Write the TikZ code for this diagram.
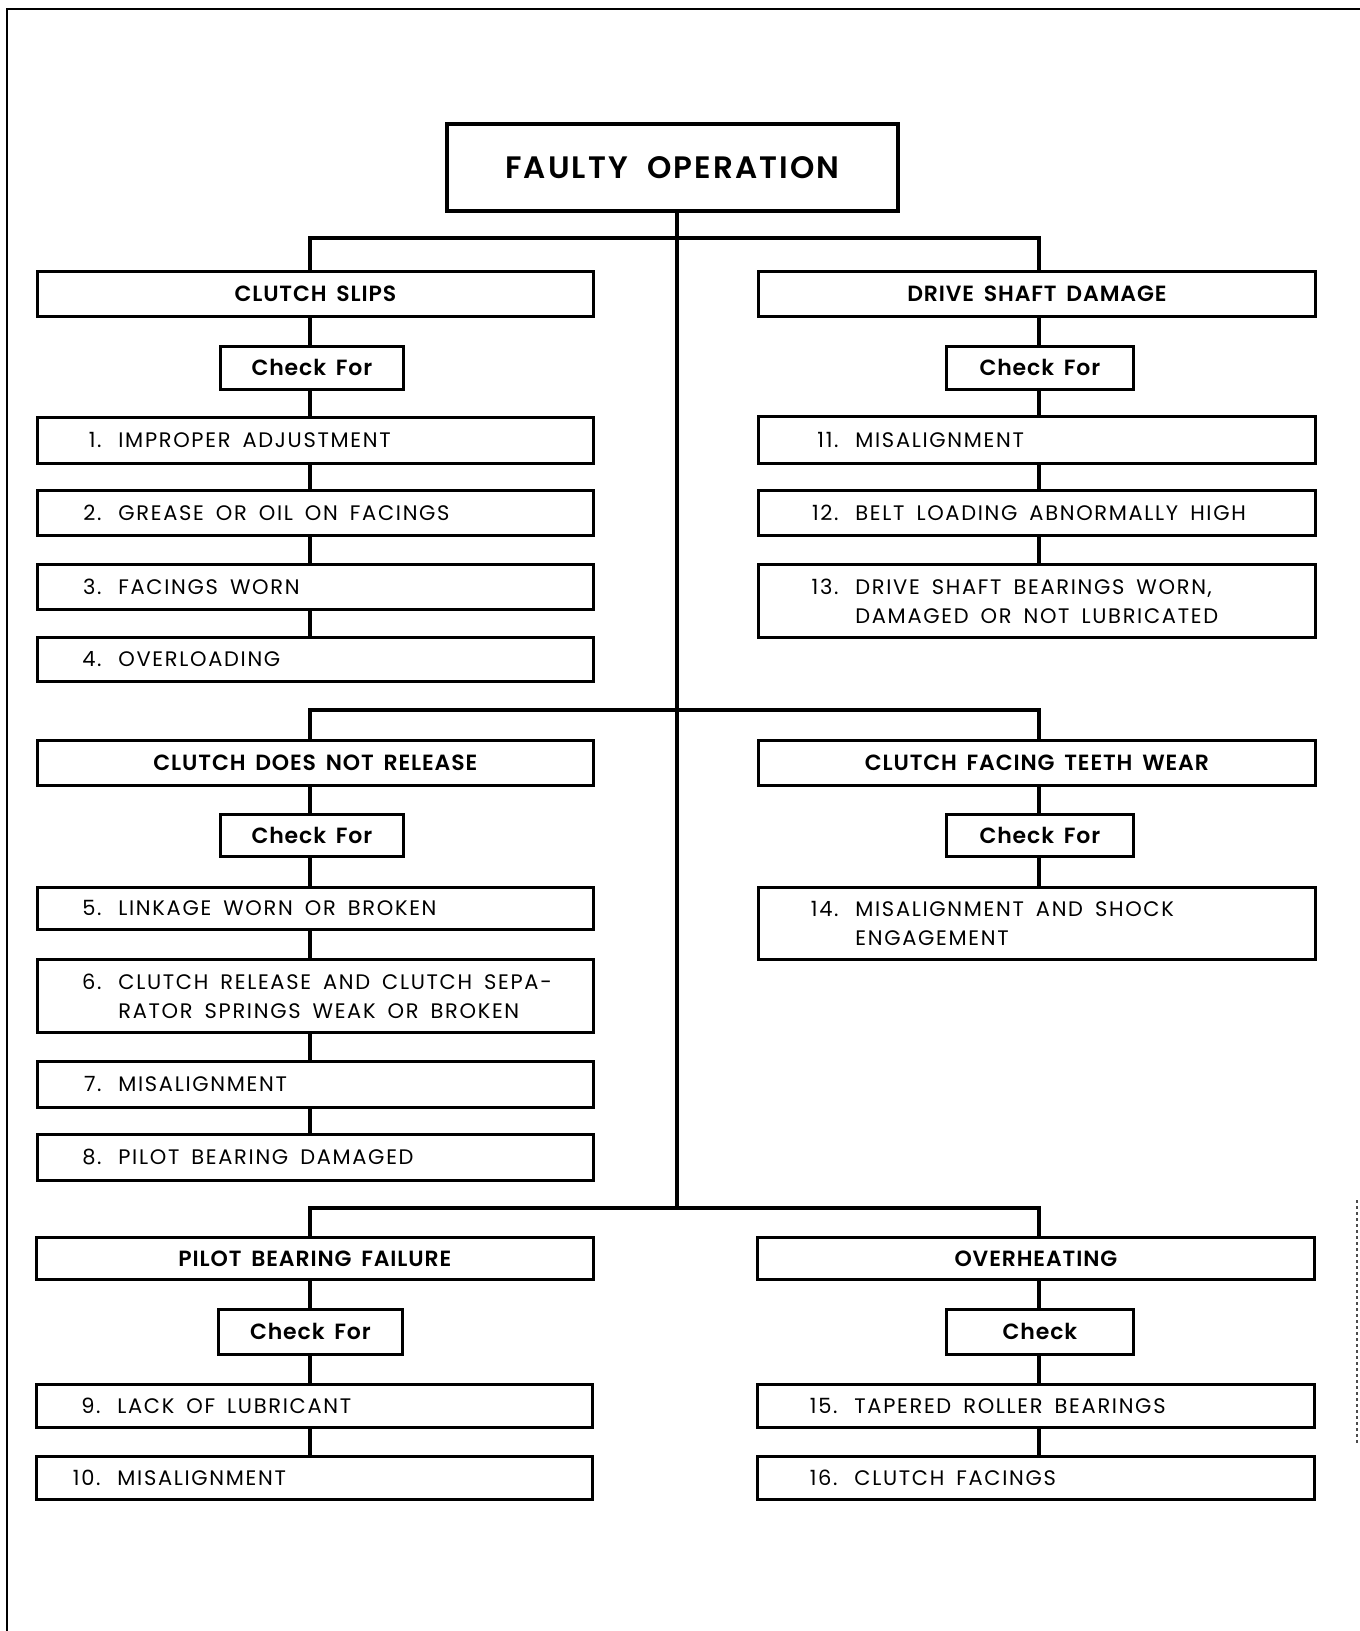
\documentclass[tikz,border=0pt]{standalone}
\usepackage{fontspec}
\setmainfont{Poppins}[BoldFont={Poppins SemiBold}]
\newfontfamily\itemfont[LetterSpace=8]{Poppins}
\newfontfamily\headfont[LetterSpace=4,WordSpace=1.6,BoldFont={Poppins SemiBold}]{Poppins}
\newfontfamily\topfont[LetterSpace=7,WordSpace=2,BoldFont={Poppins SemiBold}]{Poppins}
\newcommand\itm[3]{\spaceskip=12pt plus 2pt minus 1pt\relax\hspace*{#1pt}\llap{#2\hspace{0.8em}}#3}
\newcommand\placebox[7]{\node[#6, minimum width={#4-#2}, minimum height={#5-#3}] (#1) at (#2,#3) {#7};}
\begin{document}
\begin{tikzpicture}[x=1pt,y=-1pt,
  bx/.style={draw, line width=2.8pt, rectangle, inner sep=0pt, anchor=north west},
  head/.style={bx, font=\headfont\bfseries\fontsize{22}{26}\selectfont},
  chk/.style={bx, font=\headfont\bfseries\fontsize{22}{26}\selectfont},
  top/.style={bx, line width=3.8pt, font=\topfont\bfseries\fontsize{31}{34}\selectfont},
  itemL/.style={bx, text width=556pt, align=left, font=\itemfont\fontsize{21}{29}\selectfont},
  itemR/.style={itemL, text width=557pt},
  conn/.style={line width=3.2pt},
  frame/.style={line width=1.6pt}]
\useasboundingbox (0,0) rectangle (1360,1631);
% frame
\draw[frame] (1360,9) -- (7,9) -- (7,1631);
\draw[frame, dashed, black!70] (1357,1200) -- (1357,1445);
% column and bar coordinates
\coordinate (colL) at (310,0);
\coordinate (colR) at (1039,0);
\coordinate (b1) at (677,238);
\coordinate (b2) at (677,710);
\coordinate (b3) at (677,1208);
% top
\placebox{fo}{445}{122}{896}{209}{top}{FAULTY OPERATION}
% headings
\placebox{cs}{36}{270}{592}{315}{head}{CLUTCH SLIPS}
\placebox{ds}{757}{270}{1314}{315}{head}{DRIVE SHAFT DAMAGE}
\placebox{cr}{36}{739}{592}{784}{head}{CLUTCH DOES NOT RELEASE}
\placebox{ct}{757}{739}{1314}{784}{head}{CLUTCH FACING TEETH WEAR}
\placebox{pb}{35}{1236}{592}{1278}{head}{PILOT BEARING FAILURE}
\placebox{oh}{756}{1236}{1313}{1278}{head}{OVERHEATING}
% check boxes
\placebox{k1}{219}{345}{402}{388}{chk}{Check For}
\placebox{k2}{945}{345}{1132}{388}{chk}{Check For}
\placebox{k3}{219}{813}{402}{855}{chk}{Check For}
\placebox{k4}{945}{813}{1132}{855}{chk}{Check For}
\placebox{k5}{217}{1308}{401}{1353}{chk}{Check For}
\placebox{k6}{945}{1308}{1132}{1353}{chk}{Check}
% left items
\placebox{i1}{36}{416}{592}{462}{itemL}{\itm{81}{1.}{IMPROPER ADJUSTMENT}}
\placebox{i2}{36}{489}{592}{534}{itemL}{\itm{81}{2.}{GREASE OR OIL ON FACINGS}}
\placebox{i3}{36}{563}{592}{608}{itemL}{\itm{81}{3.}{FACINGS WORN}}
\placebox{i4}{36}{636}{592}{680}{itemL}{\itm{81}{4.}{OVERLOADING}}
\placebox{i5}{36}{886}{592}{928}{itemL}{\itm{81}{5.}{LINKAGE WORN OR BROKEN}}
\placebox{i6}{36}{958}{592}{1031}{itemL}{\itm{81}{6.}{CLUTCH RELEASE AND CLUTCH SEPA-}\\\hspace*{81pt}RATOR SPRINGS WEAK OR BROKEN}
\placebox{i7}{36}{1060}{592}{1106}{itemL}{\itm{81}{7.}{MISALIGNMENT}}
\placebox{i8}{36}{1133}{592}{1179}{itemL}{\itm{81}{8.}{PILOT BEARING DAMAGED}}
\placebox{i9}{35}{1383}{591}{1426}{itemL}{\itm{81}{9.}{LACK OF LUBRICANT}}
\placebox{i10}{35}{1455}{591}{1498}{itemL}{\itm{81}{10.}{MISALIGNMENT}}
% right items
\placebox{i11}{757}{415}{1314}{462}{itemR}{\itm{97}{11.}{MISALIGNMENT}}
\placebox{i12}{757}{489}{1314}{534}{itemR}{\itm{97}{12.}{BELT LOADING ABNORMALLY HIGH}}
\placebox{i13}{757}{563}{1314}{636}{itemR}{\itm{97}{13.}{DRIVE SHAFT BEARINGS WORN,}\\\hspace*{97pt}DAMAGED OR NOT LUBRICATED}
\placebox{i14}{757}{886}{1314}{958}{itemR}{\itm{97}{14.}{MISALIGNMENT AND SHOCK}\\\hspace*{97pt}ENGAGEMENT}
\placebox{i15}{756}{1383}{1313}{1426}{itemR}{\itm{97}{15.}{TAPERED ROLLER BEARINGS}}
\placebox{i16}{756}{1455}{1313}{1498}{itemR}{\itm{97}{16.}{CLUTCH FACINGS}}
% trunk and bars
\draw[conn] (fo.south -| b1) -- (b3);
\draw[conn] (cs.north -| colL) |- (b1) -| (ds.north -| colR);
\draw[conn] (cr.north -| colL) |- (b2) -| (ct.north -| colR);
\draw[conn] (pb.north -| colL) |- (b3) -| (oh.north -| colR);
% column chains
\foreach \a/\b in {cs/k1,k1/i1,i1/i2,i2/i3,i3/i4,cr/k3,k3/i5,i5/i6,i6/i7,i7/i8,pb/k5,k5/i9,i9/i10}
  \draw[conn] (\a.south -| colL) -- (\b.north -| colL);
\foreach \a/\b in {ds/k2,k2/i11,i11/i12,i12/i13,ct/k4,k4/i14,oh/k6,k6/i15,i15/i16}
  \draw[conn] (\a.south -| colR) -- (\b.north -| colR);
\end{tikzpicture}
\end{document}
